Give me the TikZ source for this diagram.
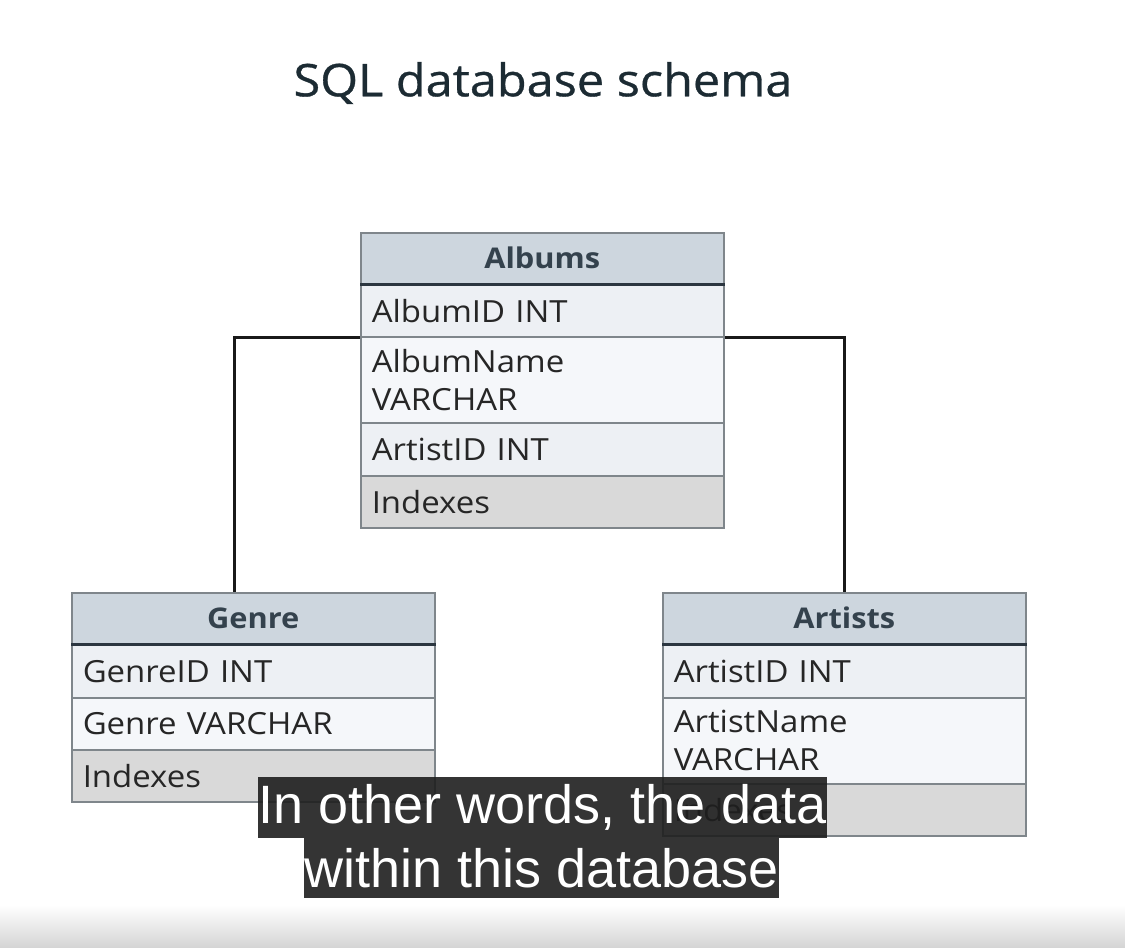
\documentclass[tikz,border=0pt]{standalone}
\usepackage{fontspec}
\setmainfont{Open Sans}[FakeStretch=1.08]
\newfontfamily\titlefont{Open Sans}[FakeStretch=1.08, FakeBold=0.7]
\newfontfamily\capfont{Liberation Sans}
\definecolor{titlec}{HTML}{1C2B33}
\definecolor{headfill}{HTML}{CDD6DE}
\definecolor{headtext}{HTML}{34424D}
\definecolor{rowa}{HTML}{EDF0F4}
\definecolor{rowb}{HTML}{F5F7FA}
\definecolor{idxfill}{HTML}{D9D9D9}
\definecolor{border}{HTML}{7F868B}
\definecolor{headline}{HTML}{2B3640}
\definecolor{capfill}{HTML}{1E1E1E}
\tikzset{
  tabhead/.style={draw=border, line width=1.5pt, fill=headfill, anchor=north west,
    minimum width=363pt, minimum height=51pt, inner sep=0pt, text=headtext,
    font=\fontsize{28.5}{34}\selectfont\bfseries},
  tabrow/.style={draw=border, line width=1.5pt, anchor=north west, inner xsep=11pt, inner ysep=0pt,
    text width=341pt, align=left, minimum height=#1, text=black!85,
    font=\fontsize{30.5}{38}\selectfont},
  rowA/.style={tabrow=#1, fill=rowa},
  rowB/.style={tabrow=#1, fill=rowb},
  rowI/.style={tabrow=#1, fill=idxfill},
  headrule/.style={draw=headline, line width=3pt},
  link/.style={draw=black!90, line width=2.5pt},
  capbox/.style={fill=capfill, fill opacity=0.9, text opacity=1, text=white, inner sep=0pt,
    font=\capfont\fontsize{54}{60}\selectfont}
}
\begin{document}
\begin{tikzpicture}[x=1pt,y=-1pt]
\useasboundingbox (0,0) rectangle (1125,948);
\fill[white] (0,0) rectangle (1125,948);
\shade[top color=white, bottom color=black!17] (0,905) rectangle (1125,948);

\node[text=titlec, font=\titlefont\fontsize{45}{54}\selectfont] (title) at (543,83) {SQL database schema};

% Albums
\node[tabhead] (alb-h) at (360,232) {Albums};
\node[rowA=52pt] (alb-1) at (360,284) {AlbumID INT};
\node[rowB=86pt] (alb-2) at (360,336) {AlbumName\\VARCHAR};
\node[rowA=53pt] (alb-3) at (360,422) {ArtistID INT};
\node[rowI=52pt] (alb-4) at (360,475) {Indexes};
\draw[headrule] (alb-h.south west) -- (alb-h.south east);

% Genre
\node[tabhead] (gen-h) at (71,592) {Genre};
\node[rowA=53pt] (gen-1) at (71,644) {GenreID INT};
\node[rowB=52pt] (gen-2) at (71,697) {Genre VARCHAR};
\node[rowI=52pt] (gen-3) at (71,749) {Indexes};
\draw[headrule] (gen-h.south west) -- (gen-h.south east);

% Artists
\node[tabhead] (art-h) at (662,592) {Artists};
\node[rowA=53pt] (art-1) at (662,644) {ArtistID INT};
\node[rowB=86pt] (art-2) at (662,697) {ArtistName\\VARCHAR};
\node[rowI=52pt] (art-3) at (662,783) {Indexes};
\draw[headrule] (art-h.south west) -- (art-h.south east);

% connectors
\coordinate (gtop) at ([xshift=-19pt]gen-h.north);
\draw[link] (alb-1.south west) -| (gtop);
\draw[link] (alb-1.south east) -| (art-h.north);

% caption overlay
\node[capbox, minimum width=569pt, minimum height=61pt] (cap1) at (542.5,807.5) {In other words, the data};
\node[capbox, minimum width=475pt, minimum height=60pt] (cap2) at (541.5,868) {within this database};
\end{tikzpicture}
\end{document}
